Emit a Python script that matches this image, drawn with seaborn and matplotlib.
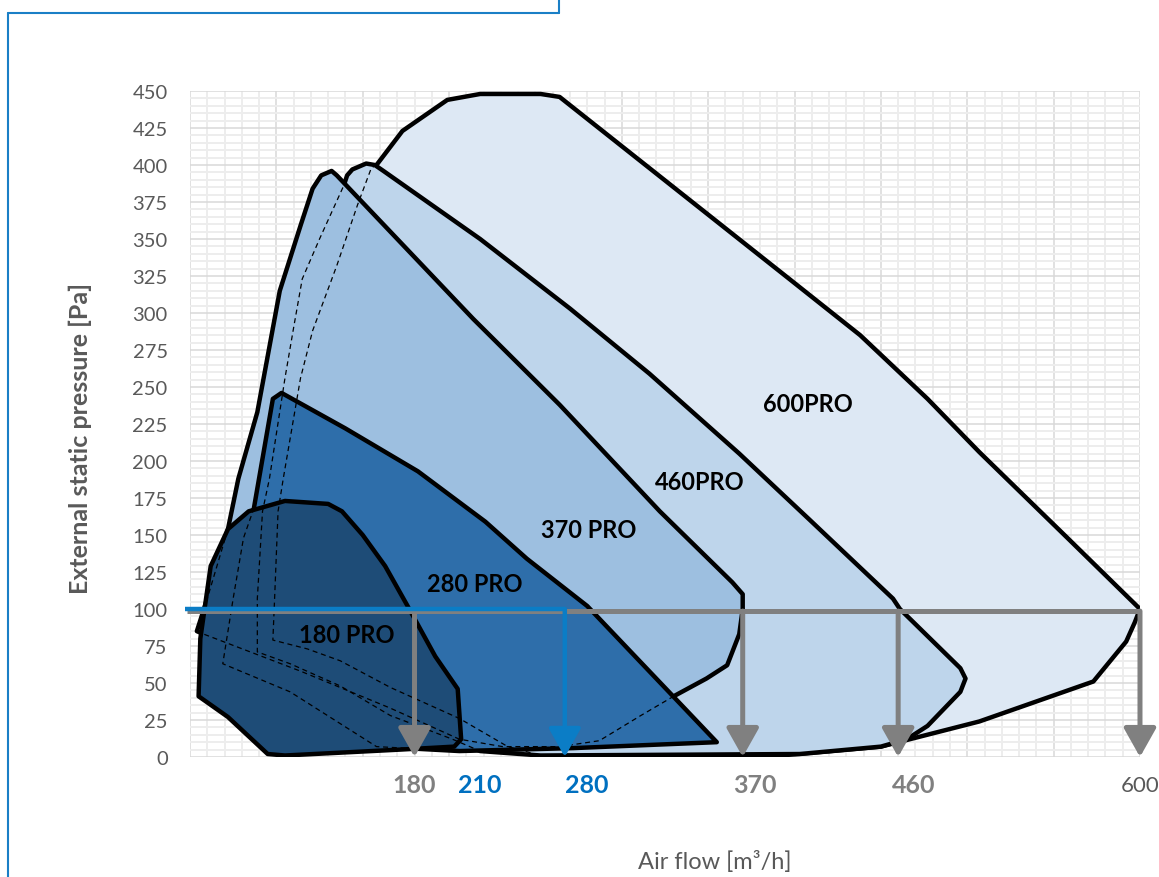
import matplotlib
matplotlib.use("Agg")
import matplotlib.pyplot as plt
from matplotlib.lines import Line2D
from matplotlib.ticker import MultipleLocator
import seaborn as sns

# envelope outlines (air flow m3/h, pressure Pa), back to front, incl. hidden parts
flow_600 = [199, 218, 253, 264, 397, 438, 477, 507, 558, 600, 597, 592, 573, 507, 450, 392,
            253, 234, 206, 166, 137, 118, 98, 99, 101, 104, 114, 121, 135, 147, 155, 158, 173]
pres_600 = [444, 448, 448, 446, 323, 285, 242, 206, 148, 100, 91, 78, 51, 24, 7, 1,
            1, 7, 26, 47, 65, 73, 79, 107, 166, 188, 256, 288, 332, 373, 398, 400, 423]

flow_460 = [141, 144, 152, 157, 162, 218, 270, 316, 368, 409, 457, 461, 496, 499, 496, 477, 465,
            450, 403, 253, 218, 202, 166, 137, 108, 89, 89, 92, 96, 105, 110, 115, 125, 139]
pres_460 = [393, 397, 401, 400, 396, 350, 303, 259, 205, 160, 107, 100, 60, 53, 44, 21, 12,
            7, 2, 1, 4, 12, 28, 48, 63, 71, 107, 166, 188, 256, 290, 323, 350, 386]

flow_370 = [121, 126, 132, 135, 214, 264, 322, 364, 370, 370, 368, 364, 361, 349, 330, 311, 287,
            264, 231, 206, 166, 114, 58, 54, 60, 72, 78, 89, 102, 114]
pres_370 = [384, 393, 396, 393, 296, 238, 166, 118, 110, 100, 83, 71, 62, 53, 41, 28, 11,
            7, 7, 12, 33, 58, 83, 85, 107, 154, 188, 233, 315, 359]

flow_280 = [98, 103, 140, 182, 221, 245, 280, 302, 355, 272, 206, 158, 108, 69, 75, 81, 87]
pres_280 = [242, 246, 222, 193, 159, 134, 102, 75, 10, 6, 4, 7, 44, 63, 107, 148, 168]

flow_180 = [55, 56, 62, 72, 84, 105, 130, 138, 150, 163, 176, 192, 205, 207, 203, 172, 105, 95, 72]
pres_180 = [41, 80, 129, 154, 166, 173, 171, 166, 150, 129, 102, 68, 46, 12, 7, 5, 1, 2, 27]

models = ["600PRO", "460PRO", "370 PRO", "280 PRO", "180 PRO"]
fills = ["#DDE8F4", "#BED5EB", "#9DBFE0", "#2E6EAA", "#1E4C77"]
outlines = [(flow_600, pres_600), (flow_460, pres_460), (flow_370, pres_370),
            (flow_280, pres_280), (flow_180, pres_180)]
label_flow = [408, 345, 281, 215, 141]
label_pres = [239, 186, 154, 117, 83]

# working point at 100 Pa
work_pres = 100
grey_flows = [180, 370, 460, 600]
blue_flow = 267
tick_pos = [180, 218, 280, 377, 469, 600]
tick_text = ["180", "210", "280", "370", "460", "600"]
tick_color = ["#808080", "#0070C0", "#0070C0", "#808080", "#808080", "#595959"]
tick_bold = [True, True, True, True, True, False]

sns.set_theme(style="white")
plt.rcParams["font.family"] = ["Lato", "DejaVu Sans"]

fig = plt.figure(figsize=(11.59, 8.78), dpi=100)
ax = fig.add_axes([0.1639, 0.1367, 0.8197, 0.7585])

for (fx, py), col in zip(outlines, fills):
    ax.fill(fx, py, facecolor=col, edgecolor="black", lw=3.2, joinstyle="round", zorder=2)

# hidden edges shown dashed
for fx, py in outlines:
    sns.lineplot(x=fx + fx[:1], y=py + py[:1], sort=False, estimator=None, color="black",
                 lw=0.9, linestyle=(0, (4, 3)), ax=ax, zorder=3)

for name, x, y in zip(models, label_flow, label_pres):
    ax.text(x, y, name, ha="center", va="center", fontsize=17, fontweight="bold",
            color="black", zorder=6)

ax.plot([48, 600], [work_pres - 1.4, work_pres - 1.4], color="#808080", lw=3.6,
        solid_capstyle="butt", zorder=4, clip_on=False)
ax.plot([47, blue_flow], [work_pres, work_pres], color="#0B7DC6", lw=3.2,
        solid_capstyle="butt", zorder=5, clip_on=False)
arrow_style = "-|>,head_length=0.8,head_width=0.45"
for f in grey_flows:
    ax.annotate("", xy=(f, 0), xytext=(f, work_pres - 1.4), zorder=4,
                arrowprops=dict(arrowstyle=arrow_style, color="#808080", lw=3.6,
                                mutation_scale=22, shrinkA=0, shrinkB=0))
ax.annotate("", xy=(blue_flow, 0), xytext=(blue_flow, work_pres), zorder=5,
            arrowprops=dict(arrowstyle=arrow_style, color="#0B7DC6", lw=3.2,
                            mutation_scale=22, shrinkA=0, shrinkB=0))

ax.set_xlim(50, 600)
ax.set_ylim(0, 450)
ax.xaxis.set_major_locator(MultipleLocator(50))
ax.xaxis.set_minor_locator(MultipleLocator(10))
ax.yaxis.set_major_locator(MultipleLocator(25))
ax.yaxis.set_minor_locator(MultipleLocator(5))
ax.grid(which="minor", color="#EDEDED", lw=1.4)
ax.grid(which="major", color="#D9D9D9", lw=1.1)
ax.set_axisbelow(True)
ax.tick_params(axis="x", which="both", length=0, labelbottom=False)
ax.tick_params(axis="y", which="both", length=0, labelsize=14.5, labelcolor="#595959", pad=16)
for s in ax.spines.values():
    s.set_visible(False)

for x, t, c, b in zip(tick_pos, tick_text, tick_color, tick_bold):
    ax.text(x, -0.042, t, transform=ax.get_xaxis_transform(), ha="center", va="center",
            fontsize=18 if b else 16, fontweight="bold" if b else "normal", color=c)

ax.set_ylabel("External static pressure [Pa]", fontsize=18, fontweight="bold", color="#595959")
ax.yaxis.set_label_coords(-0.103, 0.48)
ax.set_xlabel("Air flow [m³/h]", fontsize=17, color="#595959", va="center")
ax.xaxis.set_label_coords(0.5526, -0.156)

# blue frame of the sheet
frame = "#1A7FC6"
fig.add_artist(Line2D([0.0069, 0.0069], [0, 0.984], color=frame, lw=1.5))
fig.add_artist(Line2D([0.0069, 0.4823], [0.984, 0.984], color=frame, lw=1.5))
fig.add_artist(Line2D([0.4823, 0.4823], [0.984, 1], color=frame, lw=1.5))

fig.savefig("out.png", dpi=100)
